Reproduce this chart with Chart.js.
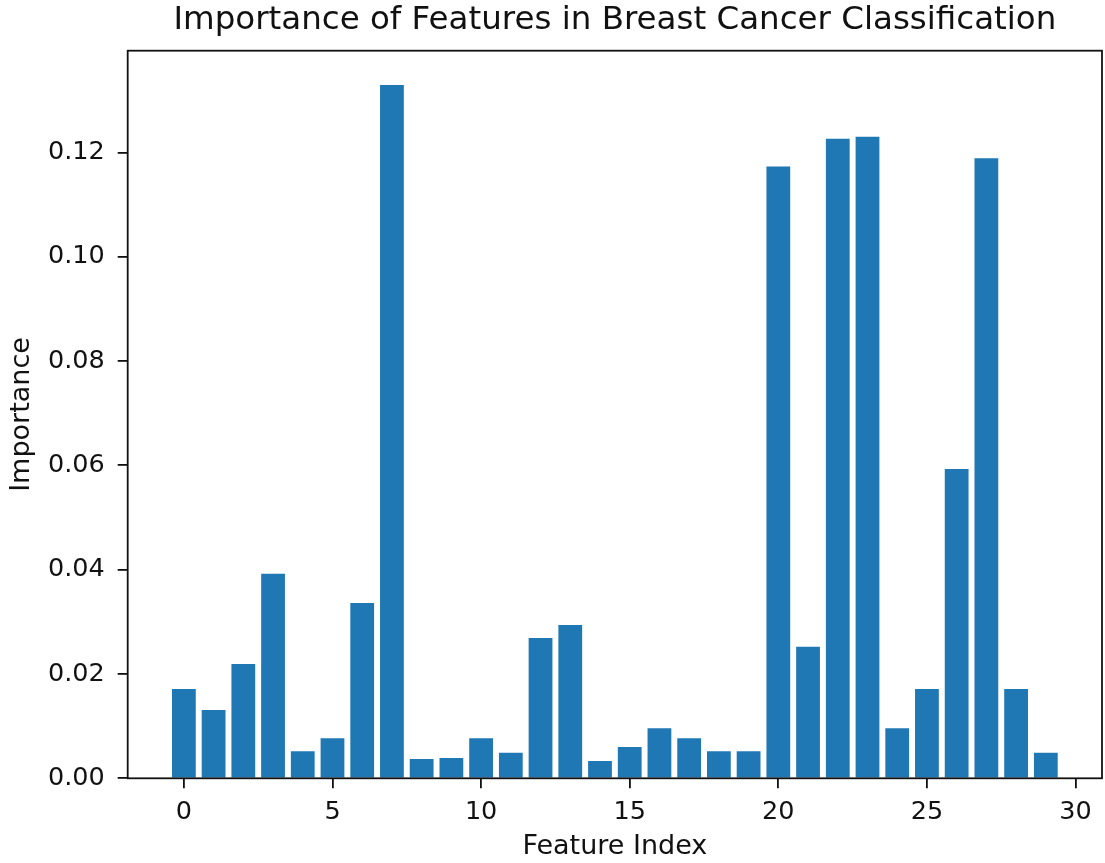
<!DOCTYPE html>
<html>
<head>
<meta charset="utf-8">
<script src="https://cdn.jsdelivr.net/npm/chart.js@4.4.1/dist/chart.umd.min.js"></script>
<style>
  html, body { margin: 0; padding: 0; background: #fff; }
  #wrap { width: 1105px; height: 863px; }
</style>
</head>
<body>
<div id="wrap"><canvas id="featChart" width="1105" height="863"></canvas></div>
<script>
// feature indices and their importances
var featureIndex = [0, 1, 2, 3, 4, 5, 6, 7, 8, 9, 10, 11, 12, 13, 14, 15, 16, 17, 18, 19, 20, 21, 22, 23, 24, 25, 26, 27, 28, 29];
var importance = [0.0171, 0.0131, 0.0219, 0.0392, 0.0052, 0.0077, 0.0336, 0.1329, 0.0037, 0.0039,
                  0.0077, 0.0049, 0.0269, 0.0294, 0.0033, 0.0060, 0.0096, 0.0077, 0.0052, 0.0052,
                  0.1173, 0.0252, 0.1226, 0.1230, 0.0096, 0.0171, 0.0593, 0.1189, 0.0171, 0.0049];
var xTicks = [0, 5, 10, 15, 20, 25, 30];
var yTicks = [0, 0.02, 0.04, 0.06, 0.08, 0.10, 0.12];

var font = "DejaVu Sans";
var ink = "#111";

var points = featureIndex.map(function (f, i) {
    return { x: f, y: importance[i] };
});

// top/right spines like matplotlib's frame
var frame = {
    id: "frame",
    afterDatasetsDraw: function (chart) {
        var a = chart.chartArea, c = chart.ctx;
        c.save();
        c.strokeStyle = ink;
        c.lineWidth = 1.8;
        c.strokeRect(a.left, a.top, a.right - a.left, a.bottom - a.top);
        c.restore();
    }
};

var ctx = document.getElementById("featChart").getContext("2d");
new Chart(ctx, {
    type: "bar",
    data: {
        datasets: [{
            data: points,
            backgroundColor: "#1f77b4",
            borderWidth: 0,
            barPercentage: 0.8,
            categoryPercentage: 1.0
        }]
    },
    options: {
        responsive: false,
        animation: false,
        layout: { padding: { left: 0, right: 3, top: 0, bottom: 0 } },
        plugins: {
            legend: { display: false },
            tooltip: { enabled: false },
            title: {
                display: true,
                fullSize: false,
                text: "Importance of Features in Breast Cancer Classification",
                color: ink,
                font: { family: font, size: 32.5, weight: "normal", lineHeight: 1.2 },
                padding: { top: 1.5, bottom: 10.2 }
            }
        },
        scales: {
            x: {
                type: "linear",
                offset: false,
                min: -1.89,
                max: 30.89,
                afterBuildTicks: function (scale) {
                    scale.ticks = xTicks.map(function (v) { return { value: v }; });
                },
                afterFit: function (scale) { scale.height = 84.7; },
                grid: { offset: false, drawOnChartArea: false, drawTicks: true, tickLength: 10, color: ink, lineWidth: 1.8 },
                border: { display: false },
                ticks: {
                    color: ink,
                    padding: 8.4,
                    maxRotation: 0,
                    font: { family: font, size: 25.5 },
                    callback: function (v) { return String(v); }
                },
                title: {
                    display: true,
                    text: "Feature Index",
                    color: ink,
                    font: { family: font, size: 27, lineHeight: 1.2 },
                    padding: { top: 0, bottom: 0 }
                }
            },
            y: {
                type: "linear",
                min: 0,
                max: 0.1395,
                afterBuildTicks: function (scale) {
                    scale.ticks = yTicks.map(function (v) { return { value: v }; });
                },
                afterFit: function (scale) { scale.width = 127.7; },
                grid: { drawOnChartArea: false, drawTicks: true, tickLength: 10, color: ink, lineWidth: 1.8 },
                border: { display: false },
                ticks: {
                    color: ink,
                    padding: 13,
                    font: { family: font, size: 25.5 },
                    callback: function (v) { return Number(v).toFixed(2); }
                },
                title: {
                    display: true,
                    text: "Importance",
                    color: ink,
                    font: { family: font, size: 27, lineHeight: 1.2 },
                    padding: { top: 6, bottom: 0 }
                }
            }
        }
    },
    plugins: [frame]
});
</script>
</body>
</html>
